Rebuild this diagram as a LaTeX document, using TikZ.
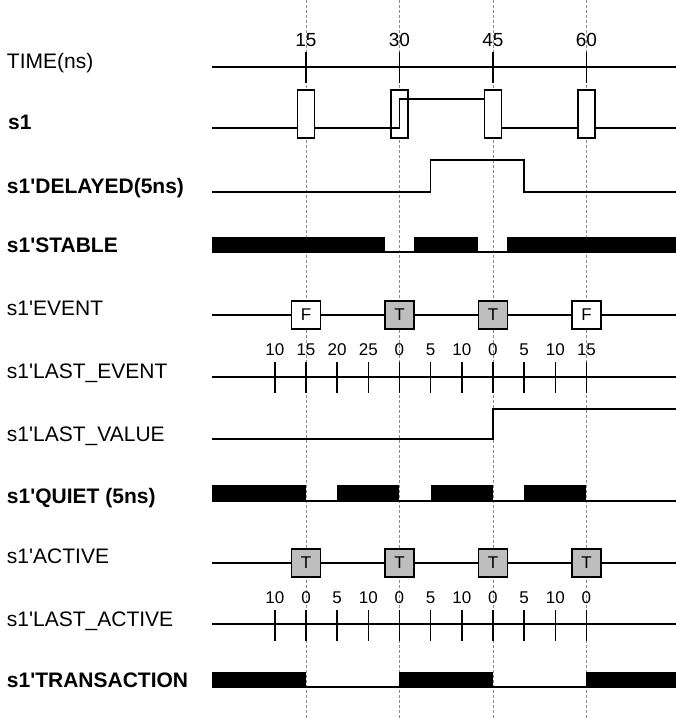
\documentclass[tikz,border=0pt]{standalone}
\usepackage{fontspec}
\setmainfont{Liberation Sans}[Ligatures=TeXOff]
\usetikzlibrary{calc,positioning}
\definecolor{wavec}{HTML}{000000}
\definecolor{gridc}{HTML}{8A8A8A}
\definecolor{tfill}{HTML}{BEBEBE}
\tikzset{
  wv/.style={line width=1.4pt,wavec},
  grd/.style={gridc,line width=0.8pt,dash pattern=on 3pt off 2pt},
  bar/.style={fill=wavec},
  lbl/.style={anchor=base west,inner sep=0pt,font=\fontsize{21}{25}\selectfont},
  blbl/.style={lbl,font=\fontsize{21}{25}\selectfont\bfseries},
  tnum/.style={anchor=base,inner sep=0pt,font=\fontsize{19}{22}\selectfont},
  snum/.style={anchor=base,inner sep=0pt,font=\fontsize{17}{20}\selectfont},
  trn/.style={draw=wavec,line width=1.4pt,fill=white,minimum width=17pt,minimum height=48pt,inner sep=0pt},
  fbox/.style={draw=wavec,line width=1.4pt,fill=white,minimum width=29pt,minimum height=28pt,inner sep=0pt,font=\fontsize{17}{20}\selectfont},
  tbox/.style={fbox,fill=tfill}
}
\begin{document}
\begin{tikzpicture}[x=6.233pt,y=-1pt]
\useasboundingbox (-34.09,0) rectangle (74.36,719);
\foreach \t in {15,30,45,60} \draw[grd] (\t,0) -- (\t,719);
\node[lbl] (lTime) at (-33,69) {TIME(ns)};
\node[blbl] (lS1) at (-32.8,130) {s1};
\node[blbl] (lDel) at (-33,194) {s1'DELAYED(5ns)};
\node[blbl] (lStab) at (-33,252) {s1'STABLE};
\node[lbl] (lEv) at (-33,315) {s1'EVENT};
\node[lbl] (lLev) at (-33,378) {s1'LAST\_EVENT};
\node[lbl] (lLval) at (-33,441) {s1'LAST\_VALUE};
\node[blbl] (lQui) at (-33,503) {s1'QUIET (5ns)};
\node[lbl] (lAct) at (-33,563) {s1'ACTIVE};
\node[lbl] (lLact) at (-33,626) {s1'LAST\_ACTIVE};
\node[blbl] (lTrn) at (-33,687) {s1'TRANSACTION};
\coordinate (tA) at (0,67); \coordinate (tB) at (74.36,67);
\draw[wv] (tA) -- (tB);
\foreach \t in {15,30,45,60} {\draw[wv] (\t,52) -- (\t,83); \node[tnum] (tn\t) at (\t,47) {\t};}
\foreach \t in {15,30,45,60} \node[trn] (tr\t) at (\t,114) {};
\coordinate (sA) at (0,128); \coordinate (sB) at (74.36,128); \coordinate (sH) at (30,99);
\draw[wv] (sA) -- (sA -| tr15.west);
\draw[wv] (sA -| tr15.east) -- (30,128) -- (sH) -- (sH -| tr45.west);
\draw[wv] (sA -| tr45.east) -- (sA -| tr60.west);
\draw[wv] (sA -| tr60.east) -- (sB);
\coordinate (dA) at (0,192); \coordinate (dB) at (74.36,192);
\draw[wv] (dA) -- (35,192) -- (35,160) -- (50,160) -- (50,192) -- (dB);
\coordinate (stA) at (0,252); \coordinate (stB) at (74.36,252);
\draw[wv] (stA) -- (stB);
\fill[bar] (0,237) rectangle (27.7,253);
\fill[bar] (32.3,237) rectangle (42.6,253);
\fill[bar] (47.3,237) rectangle (74.36,253);
\coordinate (eA) at (0,315); \coordinate (eB) at (74.36,315);
\draw[wv] (eA) -- (eB);
\node[fbox] (ev15) at (15,315) {F}; \node[tbox] (ev30) at (30,315) {T};
\node[tbox] (ev45) at (45,315) {T}; \node[fbox] (ev60) at (60,315) {F};
\coordinate (leA) at (0,377); \coordinate (leB) at (74.36,377);
\draw[wv] (leA) -- (leB);
\foreach \t/\v in {10/10,15/15,20/20,25/25,30/0,35/5,40/10,45/0,50/5,55/10,60/15}
  {\draw[wv] (\t,362) -- (\t,393); \node[snum] (le\t) at (\t,355) {\v};}
\coordinate (lvA) at (0,439); \coordinate (lvB) at (74.36,409);
\draw[wv] (lvA) -- (45,439) -- (45,409) -- (lvB);
\coordinate (qA) at (0,501); \coordinate (qB) at (74.36,501);
\draw[wv] (qA) -- (qB);
\foreach \a/\b in {0/15,20/30,35/45,50/60} \fill[bar] (\a,485) rectangle (\b,502);
\coordinate (aA) at (0,563); \coordinate (aB) at (74.36,563);
\draw[wv] (aA) -- (aB);
\foreach \t in {15,30,45,60} \node[tbox] (ac\t) at (\t,563) {T};
\coordinate (laA) at (0,624); \coordinate (laB) at (74.36,624);
\draw[wv] (laA) -- (laB);
\foreach \t/\v in {10/10,15/0,20/5,25/10,30/0,35/5,40/10,45/0,50/5,55/10,60/0}
  {\draw[wv] (\t,610) -- (\t,641); \node[snum] (la\t) at (\t,603) {\v};}
\coordinate (xA) at (0,687); \coordinate (xB) at (74.36,687);
\draw[wv] (xA) -- (xB);
\foreach \a/\b in {0/15,30/45,60/74.36} \fill[bar] (\a,672) rectangle (\b,688);
\end{tikzpicture}
\end{document}
